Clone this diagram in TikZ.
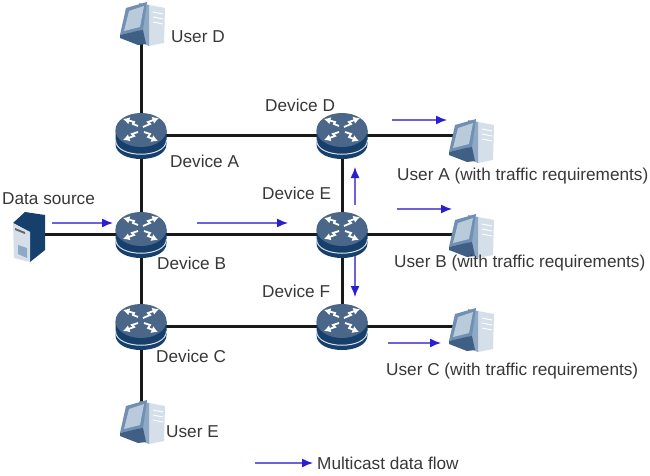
\documentclass[tikz,border=0pt]{standalone}
\usepackage{fontspec}
\setmainfont{Liberation Sans}
\usetikzlibrary{arrows.meta}
\definecolor{rtop}{HTML}{4A6688}
\definecolor{rdark}{HTML}{173F6B}
\definecolor{pclight}{HTML}{D5DFE9}
\definecolor{pcscreen}{HTML}{B9CADB}
\definecolor{pcmid}{HTML}{8FA9C4}
\definecolor{pcframe}{HTML}{6F8FB3}
\definecolor{pcdark}{HTML}{3F5F85}
\definecolor{flow}{HTML}{2A1FD0}
\tikzset{
  x=1pt,y=-1pt,
  anchorpt/.style={inner sep=0pt,minimum size=0pt,outer sep=0pt},
  link/.style={line width=3pt,black!90},
  flowarrow/.style={line width=1.4pt,color=flow!70!white,-{Latex[length=11pt,width=9pt,color=flow]}},
  lbl/.style={font=\fontsize{17.2}{20}\selectfont,text=black!78,inner sep=0pt,anchor=west},
  arr/.style={white,line width=1.8pt,-{Latex[length=6.5pt,width=7.5pt]}},
  router/.pic={
    \fill[rdark] (-25.5,-5) -- (-25.5,9) .. controls (-25.5,29) and (25.5,29) .. (25.5,9) -- (25.5,-5) -- cycle;
    \draw[white!85!rdark,line width=1pt] (-25.5,5) .. controls (-25.5,24) and (25.5,24) .. (25.5,5);
    \fill[rtop] (0,-5) ellipse[x radius=25.5,y radius=17];
    \draw[arr] (-3,-9) -- (-8,-11) -- (-7,-13) -- (-18,-16);
    \draw[arr] (2,-8) -- (9,-11) -- (7,-13) -- (18,-17);
    \draw[arr] (-3,-3) -- (-9,-1) -- (-7,1) -- (-18,5);
    \draw[arr] (3,-3) -- (9,-1) -- (7,2) -- (17,6);
  },
  pcicon/.pic={
    % tower
    \fill[pclight] (8,-19) -- (24,-16) -- (23,19) -- (8,22) -- cycle;
    \fill[pcmid] (-2,-21) -- (8,-19) -- (8,22) -- (-2,18) -- cycle;
    \draw[white,line width=.9pt] (12,-12) -- (22,-10) (12,-7) -- (22,-5) (12,-2) -- (22,0);
    % monitor
    \fill[pcframe] (-15,-16) -- (6,-22) -- (2,6) -- (-21,11) -- cycle;
    \fill[pcscreen] (-12,-13) -- (3,-18) -- (-1,3) -- (-17,7) -- cycle;
    % stand
    \fill[pcdark] (-4,7) -- (2,6) -- (5,20) -- (-3,21) -- (-21,14) -- (-21,11) -- cycle;
  },
  serverpic/.pic={
    \fill[rdark] (-17,-14) -- (-5,-25) -- (15,-22) -- (15,13) -- (0,25) -- (0,-5) -- cycle;
    \fill[pclight] (-17,-14) -- (0,-5) -- (0,25) -- (-16,21) -- cycle;
    \fill[pcmid] (-12,8) -- (-3,11) -- (-3,21) -- (-12,17) -- cycle;
    \fill[black!60] (-15,-9) -- (-5,-5) -- (-5,-3) -- (-15,-7) -- cycle;
  }
}
\begin{document}
\begin{tikzpicture}
\useasboundingbox (0,0) rectangle (650,476);
\fill[white] (0,0) rectangle (650,476);
% anchor nodes
\node[anchorpt] (devA) at (141,135) {};
\node[anchorpt] (devB) at (141,234) {};
\node[anchorpt] (devC) at (141,326) {};
\node[anchorpt] (devD) at (342,135) {};
\node[anchorpt] (devE) at (342,234) {};
\node[anchorpt] (devF) at (342,326) {};
\node[anchorpt] (userD) at (141,24) {};
\node[anchorpt] (userE) at (141,422) {};
\node[anchorpt] (userA) at (470,141) {};
\node[anchorpt] (userB) at (470,236) {};
\node[anchorpt] (userC) at (470,330) {};
\node[anchorpt] (src) at (30,237) {};
% links
\draw[link] (userD) -- (devA);
\draw[link] (devA) -- (devB);
\draw[link] (devB) -- (devC);
\draw[link] (devC) -- (userE);
\draw[link] (devA) -- (devD);
\draw[link] (devD) -- (devE);
\draw[link] (devE) -- (devF);
\draw[link] (devC) -- (devF);
\draw[link] (src |- devB) -- (devB);
\draw[link] (devB) -- (devE);
\draw[link] (devD) -- (devD -| userA);
\draw[link] (devE) -- (devE -| userB);
\draw[link] (devF) -- (devF -| userC);
% icons
\foreach \n in {devA,devB,devC,devD,devE,devF} \pic at (\n) {router};
\foreach \n in {userA,userB,userC,userD,userE} \pic at (\n) {pcicon};
\pic at (src) {serverpic};
% flow arrows
\coordinate (f1a) at (52,223); \coordinate (f1b) at (113,223);
\coordinate (f2a) at (197,223); \coordinate (f2b) at (288,223);
\coordinate (f3a) at (392,120); \coordinate (f3b) at (447,120);
\coordinate (f4a) at (397,209); \coordinate (f4b) at (452,209);
\coordinate (f5a) at (388,343); \coordinate (f5b) at (441,343);
\coordinate (f6a) at (355,205); \coordinate (f6b) at (355,167);
\coordinate (f7a) at (355,256); \coordinate (f7b) at (355,297);
\coordinate (f8a) at (255,463); \coordinate (f8b) at (313,463);
\foreach \k in {1,...,8} \draw[flowarrow] (f\k a) -- (f\k b);
% labels
\node[lbl] (tD) at (171,37) {User D};
\node[lbl] (tE) at (166,432) {User E};
\node[lbl] (tsrc) at (2,199) {Data source};
\node[lbl] (tA) at (170,161) {Device A};
\node[lbl] (tB) at (157,263) {Device B};
\node[lbl] (tC) at (156,356) {Device C};
\node[lbl] (tDD) at (265,105) {Device D};
\node[lbl] (tEE) at (262,193) {Device E};
\node[lbl] (tF) at (262,291) {Device F};
\node[lbl] (tuA) at (397,176) {User A (with traffic requirements)};
\node[lbl] (tuB) at (394,263) {User B (with traffic requirements)};
\node[lbl] (tuC) at (386,371) {User C (with traffic requirements)};
\node[lbl] (tleg) at (317,463) {Multicast data flow};
\end{tikzpicture}
\end{document}
